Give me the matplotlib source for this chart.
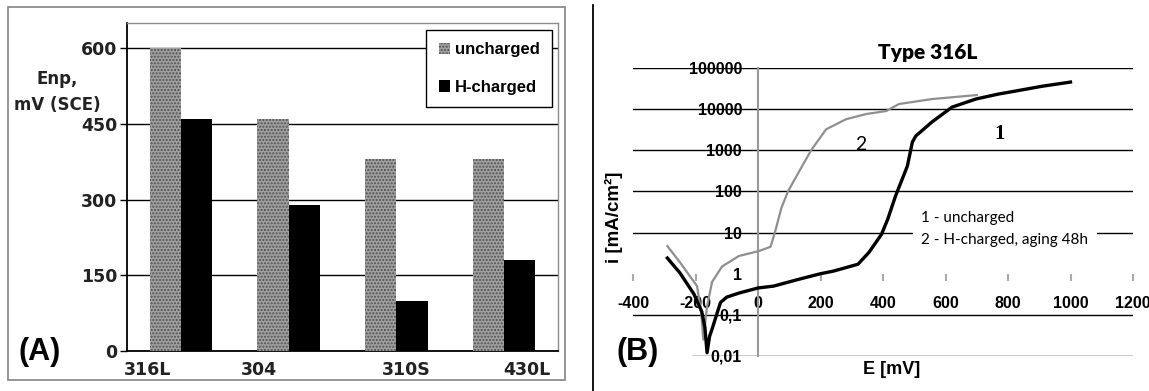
import numpy as np
import matplotlib
matplotlib.use('Agg')
import matplotlib.pyplot as plt
from matplotlib.patches import Rectangle, Patch
from matplotlib.lines import Line2D
from matplotlib.ticker import NullLocator

plt.rcParams['axes.unicode_minus'] = False  # plain hyphen for negative ticks

# (A) pitting potential per alloy
alloys = ['316L', '304', '310S', '430L']
enp_uncharged = [600, 460, 380, 380]
enp_h_charged = [460, 290, 100, 180]
a_yticks = [0, 150, 300, 450, 600]

# (B) polarisation curves, type 316L
e_uncharged = [-290, -250, -205, -180, -170, -163, -155, -147, -134, -120, -100, -60, 0,
               50, 130, 200, 240, 320, 355, 395, 415, 440, 478, 494, 505, 557, 621,
               697, 771, 825, 909, 1000]
i_uncharged = [2.4, 1.05, 0.32, 0.12, 0.05, 0.012, 0.03, 0.045, 0.093, 0.2, 0.27, 0.34, 0.45,
               0.5, 0.73, 1.0, 1.15, 1.7, 3.3, 9, 21, 77, 414, 1580, 2230, 4900, 11200,
               17600, 23400, 27600, 36000, 45500]
e_h_charged = [-290, -250, -195, -182, -175, -163, -147, -115, -61, 0, 40, 54, 75, 96,
               131, 170, 218, 282, 346, 410, 451, 557, 700]
i_h_charged = [4.7, 1.9, 0.5, 0.12, 0.025, 0.16, 0.63, 1.5, 2.7, 3.5, 4.5, 10, 40, 100,
               300, 1000, 3240, 5700, 7600, 9000, 13300, 17600, 22000]
b_xticks = [-400, -200, 0, 200, 400, 600, 800, 1000, 1200]
b_yticks = [0.01, 0.1, 1, 10, 100, 1000, 10000, 100000]
b_yticklabels = ['0,01', '0,1', '1', '10', '100', '1000', '10000', '100000']

W, H = 1149, 391
ARIAL = ['Liberation Sans', 'DejaVu Sans']
CALIBRI = ['Lato', 'DejaVu Sans']


def fx(px):
    return px / W


def fy(py):
    return 1 - py / H


fig = plt.figure(figsize=(W / 100, H / 100), dpi=100)

# ---------------- panel A ----------------
axA = fig.add_axes([fx(127), fy(351), fx(558) - fx(127), fy(23) - fy(351)])
x = np.arange(len(alloys)) + 0.5
bw = 0.29
axA.bar(x - bw, enp_uncharged, bw, align='edge', color='#a0a0a0', edgecolor='#505050',
        hatch='.....', linewidth=0, zorder=3)
axA.bar(x, enp_h_charged, bw, align='edge', color='black', linewidth=0, zorder=3)
axA.set_xlim(0, 4)
axA.set_ylim(0, 650)
axA.set_yticks(a_yticks)
label_shift = [-0.31, -0.28, 0.09, 0.21]
axA.set_xticks(x + np.array(label_shift), alloys)
axA.yaxis.grid(True, color='black', lw=1)
axA.set_axisbelow(True)
for s in ['left', 'bottom']:
    axA.spines[s].set_color('black')
    axA.spines[s].set_linewidth(1.3)
for s in ['top', 'right']:
    axA.spines[s].set_color('#8c8c8c')
    axA.spines[s].set_linewidth(1)
axA.tick_params(axis='y', length=5, width=1, color='black', pad=2, labelsize=12.5)
axA.tick_params(axis='x', length=0, pad=7, labelsize=12.5)
for lab in axA.get_xticklabels() + axA.get_yticklabels():
    lab.set_fontweight('bold')
    lab.set_color('#222222')

handles = [Patch(facecolor='#a0a0a0', edgecolor='#505050', hatch='.....', lw=0),
           Patch(facecolor='black')]
leg = axA.legend(handles, ['uncharged', 'H-charged'], loc='upper right',
                 bbox_to_anchor=(0.986, 0.979), borderaxespad=0, fancybox=False,
                 framealpha=1, edgecolor='black', handlelength=0.7, handleheight=0.7,
                 handletextpad=0.25, labelspacing=1.35, borderpad=0.75,
                 prop={'family': ARIAL, 'weight': 'bold', 'size': 12})
leg.get_frame().set_linewidth(1)
leg.set_zorder(5)

fig.add_artist(Rectangle((fx(8), fy(380)), fx(565) - fx(8), fy(7) - fy(380),
                         transform=fig.transFigure, fill=False, edgecolor='#8c8c8c', lw=1.3))
fig.text(fx(40), fy(352), '(A)', fontsize=22, fontweight='bold', family=ARIAL,
         ha='center', va='center')
fig.text(fx(57), fy(92), 'Enp,\nmV (SCE)', fontsize=12, fontweight='bold', ha='center',
         va='center', linespacing=1.55, color='#222222')

# ---------------- panel B ----------------
axB = fig.add_axes([fx(633), fy(356), fx(1133) - fx(633), fy(68) - fy(356)])
axB.set_yscale('log')
axB.plot(e_h_charged, i_h_charged, color='#8f8f8f', lw=1.6, zorder=4)
axB.plot(e_uncharged, i_uncharged, color='black', lw=2.4, zorder=5, solid_joinstyle='round')
axB.set_xlim(-400, 1200)
axB.set_ylim(0.01, 100000)

for v in b_yticks:
    if v == 1:
        continue
    axB.axhline(v, xmin=0.118 if v == 0.01 else 0, color='black', lw=1, zorder=1)

axB.spines['left'].set_position(('data', 0))
axB.spines['left'].set_color('#999999')
axB.spines['left'].set_linewidth(1.5)
axB.spines['bottom'].set_position(('data', 1))
axB.spines['bottom'].set_color('none')
axB.spines['top'].set_visible(False)
axB.spines['right'].set_visible(False)

axB.set_xticks(b_xticks)
axB.set_yticks(b_yticks, b_yticklabels)
axB.yaxis.set_minor_locator(NullLocator())
axB.tick_params(axis='x', direction='out', length=5, width=1.5, color='#aaaaaa', pad=11,
                labelsize=11.5)
axB.tick_params(axis='y', length=0, pad=11.5, labelsize=11.5)
for lab in axB.get_xticklabels() + axB.get_yticklabels():
    lab.set_fontfamily(ARIAL)
    lab.set_fontweight('bold')

axB.text(330, 1400, '2', fontsize=14, family=CALIBRI, ha='center', va='center')
axB.text(774, 2480, '1', fontsize=15, family=['Liberation Serif', 'DejaVu Serif'],
         fontweight='bold', ha='center', va='center')
axB.text(522, 12, '1 - uncharged\n2 - H-charged, aging 48h', fontsize=11, family=CALIBRI,
         ha='left', va='center', linespacing=1.75, zorder=3,
         bbox=dict(facecolor='white', edgecolor='none', boxstyle='square,pad=0.55'))

fig.text(fx(928), fy(52), 'Type 316L', fontsize=15, fontweight='heavy', family=CALIBRI,
         ha='center', va='center')
fig.text(fx(614), fy(217), 'i [mA/cm²]', fontsize=13.5, fontweight='bold', family=ARIAL,
         rotation=90, ha='center', va='center')
fig.text(fx(892), fy(370), 'E [mV]', fontsize=13, fontweight='bold', family=ARIAL,
         ha='center', va='center')
fig.text(fx(638), fy(352), '(B)', fontsize=22, fontweight='bold', family=ARIAL,
         ha='center', va='center')

fig.add_artist(Line2D([fx(593), fx(593)], [fy(5), 0], transform=fig.transFigure,
                      color='black', lw=1.3))

fig.savefig('out.png', dpi=100)
